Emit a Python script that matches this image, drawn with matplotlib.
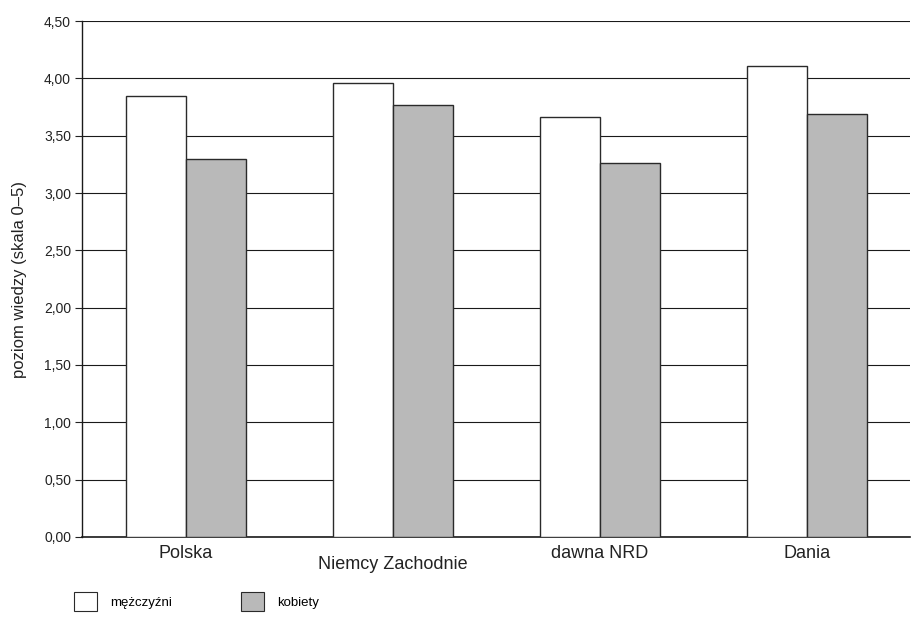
import matplotlib

matplotlib.use("Agg")
import matplotlib.pyplot as plt
import numpy as np
from matplotlib.patches import Patch
from matplotlib.ticker import FuncFormatter, MultipleLocator

plt.rcParams["font.family"] = ["Liberation Sans Narrow", "Liberation Sans", "DejaVu Sans"]

KRAJE = ["Polska", "Niemcy Zachodnie", "dawna NRD", "Dania"]
MEZCZYZNI = [3.85, 3.96, 3.66, 4.11]
KOBIETY = [3.30, 3.77, 3.26, 3.69]
SERIE = ["mężczyźni", "kobiety"]

KOLOR_M = "#ffffff"
KOLOR_K = "#b9b9b9"
KRAWEDZ = "#2a2a2a"

fig = plt.figure(figsize=(9.13, 6.2), dpi=100)
ax = fig.add_axes([0.090, 0.134, 0.907, 0.832])

x = np.arange(len(KRAJE))
w = 0.29
ax.bar(x - w / 2, MEZCZYZNI, width=w, color=KOLOR_M, edgecolor=KRAWEDZ, linewidth=1.0, zorder=3)
ax.bar(x + w / 2, KOBIETY, width=w, color=KOLOR_K, edgecolor=KRAWEDZ, linewidth=1.0, zorder=3)

ax.set_xlim(-0.5, len(KRAJE) - 0.5)
ax.set_ylim(0, 4.5)
ax.yaxis.set_major_locator(MultipleLocator(0.5))
ax.yaxis.set_major_formatter(FuncFormatter(lambda v, _: f"{v:.2f}".replace(".", ",")))
ax.grid(axis="y", color="#1a1a1a", linewidth=0.8, zorder=0)
ax.set_axisbelow(True)

for side in ("top", "right"):
    ax.spines[side].set_visible(False)
ax.spines["left"].set_color("#1a1a1a")
ax.spines["bottom"].set_color("#1a1a1a")
ax.spines["left"].set_linewidth(1.0)
ax.spines["bottom"].set_linewidth(1.2)

ax.tick_params(axis="y", length=5, width=0.8, labelsize=10, colors="#222222", pad=3)
ax.set_xticks(x)
ax.set_xticklabels([])
ax.tick_params(axis="x", length=0)

# etykiety krajów; "Niemcy Zachodnie" stoi trochę niżej
przesuniecia = [0.0, -0.10, 0.0, 0.0]
for xi, nazwa, dy in zip(x, KRAJE, przesuniecia):
    ax.text(xi, -0.07 + dy, nazwa, ha="center", va="top", fontsize=13, color="#222222")

ax.set_ylabel("poziom wiedzy (skala 0–5)", fontsize=12, color="#222222", labelpad=12)

handles = [
    Patch(facecolor=KOLOR_M, edgecolor=KRAWEDZ, linewidth=0.8),
    Patch(facecolor=KOLOR_K, edgecolor=KRAWEDZ, linewidth=0.8),
]
fig.legend(handles, SERIE, loc="lower left", bbox_to_anchor=(0.068, -0.005), ncol=2,
           frameon=False, fontsize=9.5, handlelength=1.75, handleheight=1.9,
           columnspacing=5.2, handletextpad=1.0)

fig.savefig("out.png", dpi=100)
